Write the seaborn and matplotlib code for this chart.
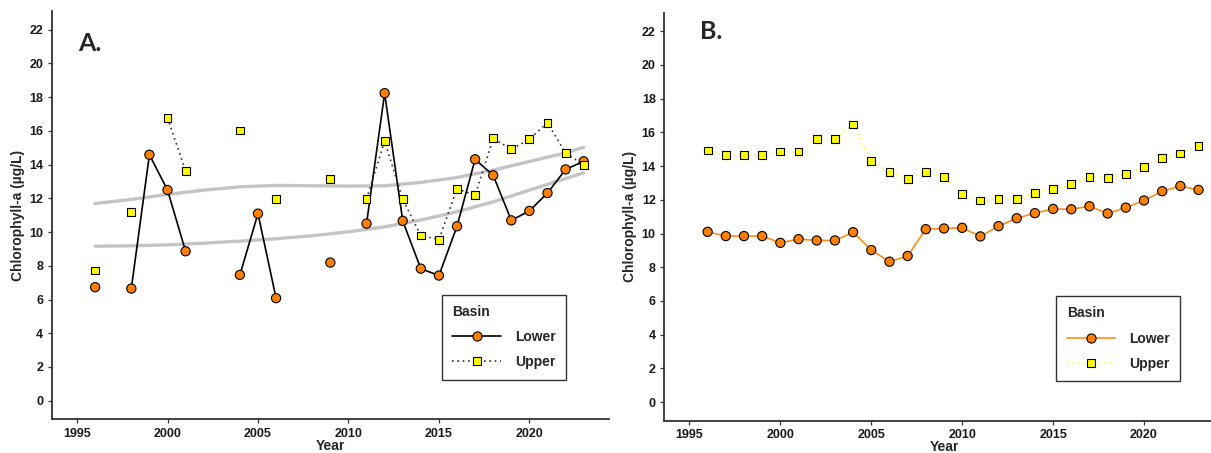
import numpy as np
import pandas as pd
import matplotlib.pyplot as plt
from matplotlib.lines import Line2D
import seaborn as sns

nan = np.nan
years = list(range(1996, 2024))

# Panel A: annual mean chlorophyll-a (NaN = no sampling that year)
a_lower = [6.73, nan, 6.65, 14.58, 12.49, 8.86, nan, nan, 7.46, 11.09, 6.08, nan, nan, 8.19,
           nan, 10.50, 18.23, 10.66, 7.83, 7.42, 10.34, 14.31, 13.36, 10.69, 11.25, 12.31, 13.71, 14.19]
a_upper = [7.72, nan, 11.21, nan, 16.77, 13.62, nan, nan, 16.02, nan, 11.94, nan, nan, 13.12,
           nan, 11.96, 15.39, 11.94, 9.79, 9.55, 12.57, 12.17, 15.55, 14.90, 15.49, 16.48, 14.68, 13.99]

# smoothed trend lines in panel A
smooth_years = [1996, 1998, 2000, 2002, 2004, 2006, 2008, 2010, 2012, 2014, 2016, 2018, 2020, 2022, 2023]
smooth_lower = [9.16, 9.18, 9.24, 9.34, 9.46, 9.60, 9.78, 10.01, 10.31, 10.71, 11.20, 11.79, 12.48, 13.17, 13.51]
smooth_upper = [11.69, 11.93, 12.23, 12.48, 12.68, 12.76, 12.74, 12.72, 12.74, 12.94, 13.23, 13.67, 14.18, 14.69, 15.02]

# Panel B
b_lower = [10.10, 9.85, 9.85, 9.85, 9.45, 9.67, 9.59, 9.59, 10.08, 9.02, 8.33, 8.67, 10.26, 10.30,
           10.34, 9.83, 10.44, 10.91, 11.21, 11.46, 11.44, 11.62, 11.19, 11.54, 11.96, 12.51, 12.82, 12.59]
b_upper = [14.93, 14.65, 14.65, 14.65, 14.87, 14.87, 15.60, 15.60, 16.47, 14.28, 13.65, 13.24, 13.67, 13.37,
           12.35, 11.96, 12.05, 12.05, 12.43, 12.63, 12.92, 13.37, 13.32, 13.51, 13.95, 14.48, 14.75, 15.17]

basins = ["Lower", "Upper"]
x_ticks = [1995, 2000, 2005, 2010, 2015, 2020]
y_ticks = list(range(0, 23, 2))


def make_df(lower, upper):
    df = pd.concat([
        pd.DataFrame({"Year": years, "chl": lower, "Basin": "Lower"}),
        pd.DataFrame({"Year": years, "chl": upper, "Basin": "Upper"}),
    ], ignore_index=True)
    # break the line wherever a year is missing
    df["seg"] = df.groupby("Basin")["chl"].transform(lambda s: s.isna().cumsum())
    return df.dropna()


df_a = make_df(a_lower, a_upper)
df_b = make_df(b_lower, b_upper)
df_smooth = pd.concat([
    pd.DataFrame({"Year": smooth_years, "chl": smooth_lower, "Basin": "Lower"}),
    pd.DataFrame({"Year": smooth_years, "chl": smooth_upper, "Basin": "Upper"}),
], ignore_index=True)

sns.set_theme(style="ticks")
plt.rcParams["font.family"] = ["Liberation Sans", "DejaVu Sans"]
plt.rcParams["font.weight"] = "bold"

fill = {"Lower": "#FF8000", "Upper": "#FFFF00"}
marks = {"Lower": "o", "Upper": "s"}
msize = {"Lower": 44, "Upper": 32}

W, H = 1211, 453
fig = plt.figure(figsize=(W / 100, H / 100), dpi=100)
ax_a = fig.add_axes([51.7 / W, (H - 419.3) / H, (609 - 51.7) / W, (419.3 - 11) / H])
ax_b = fig.add_axes([664 / W, (H - 420.7) / H, (1224 - 664) / W, (420.7 - 12.7) / H])

panels = [
    (ax_a, df_a, {"Lower": "black", "Upper": "#333333"}, "A.", (78, 51), True),
    (ax_b, df_b, {"Lower": "#FF8C1A", "Upper": "#FFFF33"}, "B.", (700, 39), False),
]

for ax, df, line_col, tag, tag_xy, smooth in panels:
    if smooth:
        sns.lineplot(data=df_smooth, x="Year", y="chl", units="Basin", estimator=None,
                     color="#c4c4c4", linewidth=2.4, legend=False, ax=ax, zorder=1)
    sns.lineplot(data=df, x="Year", y="chl", hue="Basin", style="Basin", units="seg",
                 estimator=None, palette=line_col, dashes={"Lower": "", "Upper": (1, 2.2)},
                 linewidth=1.2, legend=False, ax=ax, zorder=2)
    sns.scatterplot(data=df, x="Year", y="chl", hue="Basin", style="Basin", size="Basin",
                    palette=fill, markers=marks, sizes=msize, edgecolor="black",
                    linewidth=0.8, legend=False, ax=ax, zorder=3)

    ax.set_xlim(1993.6, 2024.4)
    ax.set_ylim(-1.1, 23.1)
    ax.set_xticks(x_ticks)
    ax.set_yticks(y_ticks)
    ax.set_xlabel("Year", fontsize=10, fontweight="bold", labelpad=-0.5)
    ax.set_ylabel("Chlorophyll-a (µg/L)", fontsize=10, fontweight="bold", labelpad=3)
    ax.tick_params(labelsize=9, length=3, width=0.9, color="#333333", labelcolor="#1a1a1a", pad=3)
    for lab in ax.get_xticklabels() + ax.get_yticklabels():
        lab.set_fontweight("bold")
    sns.despine(ax=ax)
    for sp in ["left", "bottom"]:
        ax.spines[sp].set_color("#333333")
        ax.spines[sp].set_linewidth(1.3)

    fig.text(tag_xy[0] / W, (H - tag_xy[1]) / H, tag, fontsize=18, fontweight="bold",
             family=["Lato", "DejaVu Sans"], ha="left", va="baseline")

    handles = [
        Line2D([], [], color=line_col["Lower"], lw=1.2, marker="o", markersize=6.6,
               markerfacecolor=fill["Lower"], markeredgecolor="black", markeredgewidth=0.8),
        Line2D([], [], color=line_col["Upper"], lw=1.2, linestyle=(0, (1, 2.2)), marker="s",
               markersize=5.7, markerfacecolor=fill["Upper"], markeredgecolor="black",
               markeredgewidth=0.8),
    ]
    leg = ax.legend(handles, basins, title="Basin", loc="lower left",
                    bbox_to_anchor=(0.688, 0.08), fontsize=10, title_fontsize=10,
                    handlelength=3.5, handletextpad=1.0, labelspacing=0.8,
                    borderpad=0.75, fancybox=False, framealpha=1, edgecolor="#333333",
                    alignment="left")
    leg.get_frame().set_linewidth(1.0)
    leg.get_title().set_fontweight("bold")
    for t in leg.get_texts():
        t.set_fontweight("bold")

fig.savefig("out.png", dpi=100)
